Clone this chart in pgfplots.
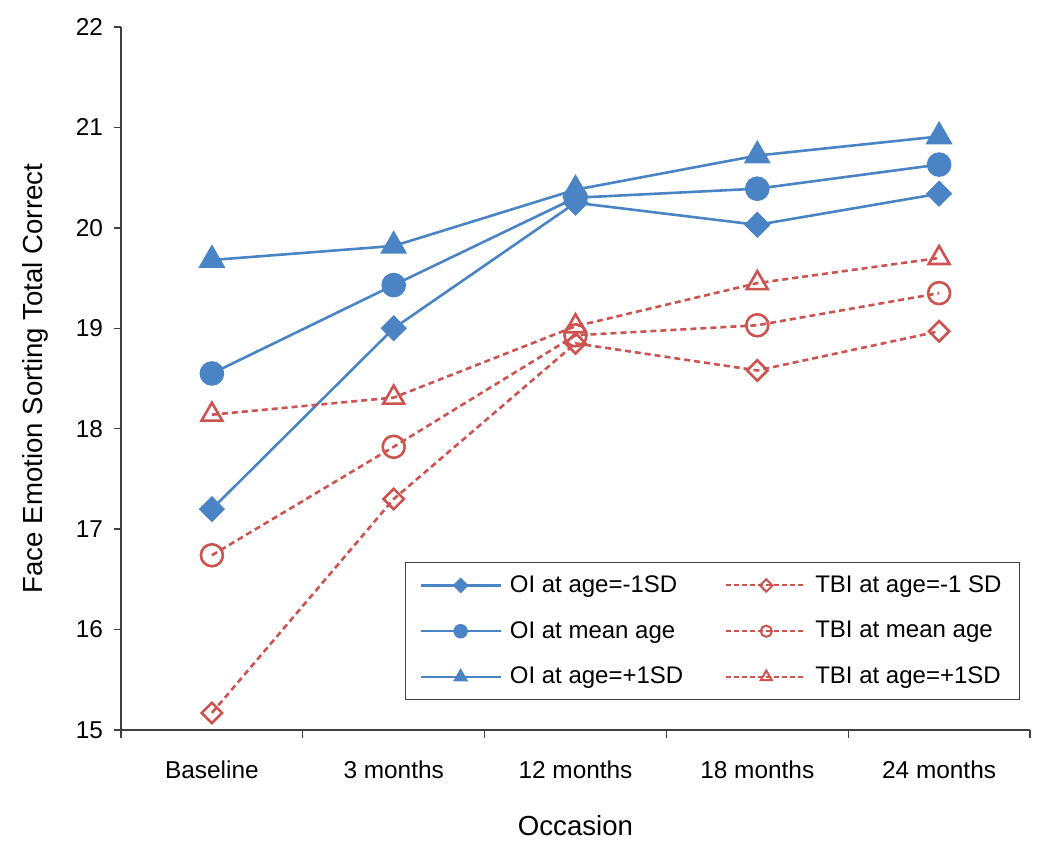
\documentclass[border=0pt]{standalone}
\usepackage{fontspec}
\setmainfont{Liberation Sans}
\usepackage{pgfplots}
\pgfplotsset{compat=1.18}
\definecolor{oiblue}{HTML}{4A84C4}
\definecolor{tbired}{HTML}{CC5350}
\definecolor{axgray}{HTML}{404040}

\begin{document}
\begin{tikzpicture}
\begin{axis}[
  scale only axis,
  width=454.5pt, height=351.5pt,
  xmin=0.5, xmax=5.5, ymin=15, ymax=22,
  axis lines*=left,
  axis line style={color=axgray,line width=0.7pt},
  xtick={1,2,3,4,5},
  xticklabels={Baseline,3 months,12 months,18 months,24 months},
  major x tick style={draw=none},
  minor xtick={0.5,1.5,2.5,3.5,4.5,5.5},
  minor x tick style={color=axgray,line width=0.7pt},
  minor tick length=4pt,
  ytick={15,16,...,22},
  major y tick style={color=axgray,line width=0.7pt},
  major tick length=3.5pt,
  tick align=outside,
  tick label style={font=\fontsize{12.2pt}{14pt}\selectfont},
  /pgf/number format/assume math mode=true,
  xticklabel style={yshift=-8.5pt},
  yticklabel style={xshift=-2pt},
  xlabel={Occasion},
  ylabel={Face Emotion Sorting Total Correct},
  label style={font=\fontsize{13.8pt}{16pt}\selectfont},
  xlabel style={at={(axis description cs:0.5,-0.1366)},anchor=center},
  ylabel style={at={(axis description cs:-0.0946,0.5)},anchor=center},
  legend columns=2,
  legend cell align=left,
  legend style={at={(axis description cs:0.989,0.239)},anchor=north east,
    draw=axgray,line width=0.6pt,fill=white,
    font=\fontsize{12pt}{14pt}\selectfont,
    inner xsep=7pt,inner ysep=4.5pt,row sep=9pt,
    /tikz/every odd column/.append style={column sep=2pt},
    /tikz/every even column/.append style={column sep=19pt}},
  legend image code/.code={
    \draw[mark repeat=2,mark phase=2] plot coordinates {(0pt,0pt) (20pt,0pt) (40pt,0pt)};},
  clip=false,
]
% OI (blue, solid, filled)
\addplot[oiblue,line width=1.3pt,mark=square*,mark size=4pt,
  mark options={solid,fill=oiblue,rotate=45},
  legend image post style={mark size=2.2pt,line width=1.2pt}]
  coordinates{(1,17.20)(2,19.00)(3,20.25)(4,20.03)(5,20.34)};
\addlegendentry{OI at age=-1SD}
\addplot[tbired,line width=1.3pt,dash pattern=on 3pt off 2pt,mark=square,mark size=3.6pt,
  mark options={solid,fill=white,rotate=45},
  legend image post style={mark size=2.2pt,line width=1pt,dash pattern=on 2.5pt off 1.5pt}]
  coordinates{(1,15.17)(2,17.30)(3,18.85)(4,18.58)(5,18.97)};
\addlegendentry{TBI at age=-1 SD}
\addplot[oiblue,line width=1.3pt,mark=*,mark size=5.5pt,
  mark options={solid,fill=oiblue},
  legend image post style={mark size=3pt,line width=1.2pt}]
  coordinates{(1,18.55)(2,19.43)(3,20.30)(4,20.39)(5,20.63)};
\addlegendentry{OI at mean age}
\addplot[tbired,line width=1.3pt,dash pattern=on 3pt off 2pt,mark=o,mark size=5.5pt,
  mark options={solid,fill=white},
  legend image post style={mark size=2.8pt,line width=1pt,dash pattern=on 2.5pt off 1.5pt}]
  coordinates{(1,16.74)(2,17.82)(3,18.93)(4,19.03)(5,19.35)};
\addlegendentry{TBI at mean age}
\addplot[oiblue,line width=1.3pt,mark=triangle*,mark size=6.5pt,
  mark options={solid,fill=oiblue},
  legend image post style={mark size=3.2pt,line width=1.2pt}]
  coordinates{(1,19.68)(2,19.82)(3,20.38)(4,20.72)(5,20.91)};
\addlegendentry{OI at age=+1SD}
\addplot[tbired,line width=1.3pt,dash pattern=on 3pt off 2pt,mark=triangle,mark size=6pt,
  mark options={solid,fill=white},
  legend image post style={mark size=3.2pt,line width=1pt,dash pattern=on 2.5pt off 1.5pt}]
  coordinates{(1,18.14)(2,18.31)(3,19.02)(4,19.45)(5,19.70)};
\addlegendentry{TBI at age=+1SD}
\end{axis}
\pgfresetboundingbox
\path (current axis.south west) ++(-60.5pt,-60.5pt) coordinate (bl);
\path (current axis.south west) ++(464.5pt,365pt) coordinate (tr);
\path (bl) rectangle (tr);
\end{tikzpicture}
\end{document}
